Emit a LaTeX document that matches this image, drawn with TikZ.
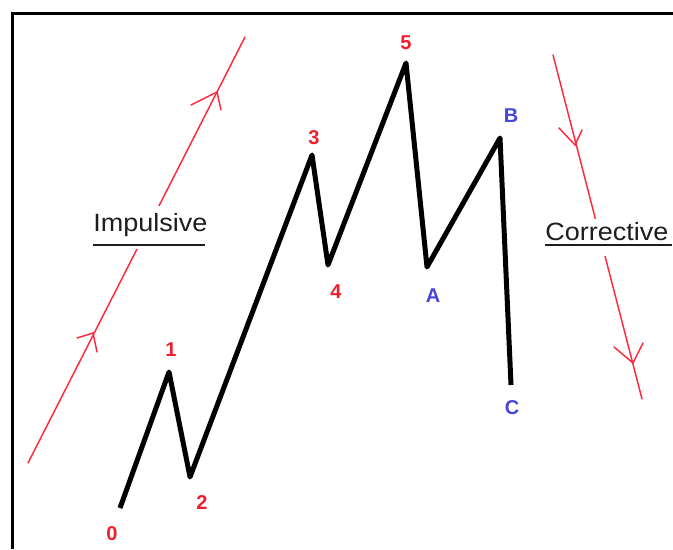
\documentclass[tikz,border=0pt]{standalone}
\usepackage{fontspec}
\setmainfont{Liberation Sans}
\newfontfamily\wordfont[FakeStretch=1.08]{Liberation Sans}
\definecolor{wavered}{RGB}{240,30,45}
\definecolor{waveblue}{RGB}{70,70,215}
\definecolor{lineRed}{RGB}{255,40,60}
\definecolor{inkgray}{RGB}{30,30,30}
\begin{document}
\begin{tikzpicture}[x=0.75pt,y=-0.75pt,
  frame/.style={line width=2.25pt,black},
  wave/.style={line width=3.75pt,black,line join=round,line cap=butt},
  trend/.style={line width=1.1pt,lineRed,line cap=round},
  num/.style={font=\bfseries\fontsize{15pt}{16pt}\selectfont,text=wavered,inner sep=0pt,text height=10.8pt,text depth=0pt,anchor=center},
  let/.style={font=\bfseries\fontsize{15pt}{16pt}\selectfont,text=waveblue,inner sep=0pt,text height=10.8pt,text depth=0pt,anchor=center},
  word/.style={font=\wordfont\fontsize{18.75pt}{20pt}\selectfont,text=inkgray,fill=white,anchor=base west,inner xsep=3pt,inner ysep=0.75pt},
  uline/.style={line width=1.5pt,inkgray}]
\useasboundingbox (0,0) rectangle (673,549);
% frame
\coordinate (fTL) at (12,14);
\coordinate (fTR) at (673,14);
\coordinate (fBL) at (12,549);
\draw[frame] (fBL) -- (fTL) -- (fTR);
% trend lines
\coordinate (lS) at (28,463);
\coordinate (lE) at (245,37);
\draw[trend] (lS) -- (lE);
\coordinate (la1) at (93,333);
\coordinate (la1l) at (77,338);
\coordinate (la1r) at (97,352);
\draw[trend] (la1l) -- (la1) -- (la1r);
\coordinate (la2) at (217,92);
\coordinate (la2l) at (191,105);
\coordinate (la2r) at (221,110);
\draw[trend] (la2l) -- (la2) -- (la2r);
\coordinate (rS) at (553,55);
\coordinate (rE) at (642,399);
\draw[trend] (rS) -- (rE);
\coordinate (ra1) at (575,145);
\coordinate (ra1l) at (559,128);
\coordinate (ra1r) at (582,130);
\draw[trend] (ra1l) -- (ra1) -- (ra1r);
\coordinate (ra2) at (633,363);
\coordinate (ra2l) at (614,347);
\coordinate (ra2r) at (643,343);
\draw[trend] (ra2l) -- (ra2) -- (ra2r);
% words
\node[word,text height=18pt,text depth=12.75pt] (imp) at (89,231) {Impulsive};
\coordinate (impU1) at (93,245);
\coordinate (impU2) at (205,245);
\draw[uline] (impU1) -- (impU2);
\node[word,text height=15pt,text depth=11.25pt] (cor) at (541,240) {Corrective};
\coordinate (corU1) at (545,245);
\coordinate (corU2) at (672,245);
\draw[uline] (corU1) -- (corU2);
% wave
\coordinate (p0) at (120,508);
\coordinate (p1) at (169,372);
\coordinate (p2) at (190,477);
\coordinate (p3) at (312,155);
\coordinate (p4) at (328,265);
\coordinate (p5) at (406,63);
\coordinate (pA) at (427,267);
\coordinate (pB) at (500,138);
\coordinate (pC) at (511,385);
\draw[wave] (p0) -- (p1) -- (p2) -- (p3) -- (p4) -- (p5) -- (pA) -- (pB) -- (pC);
% labels
\node[num] (t0) at (112,533) {0};
\node[num] (t1) at (171,349) {1};
\node[num] (t2) at (202,502) {2};
\node[num] (t3) at (314,137) {3};
\node[num] (t4) at (336,291) {4};
\node[num] (t5) at (406,42) {5};
\node[let] (tA) at (433,295) {A};
\node[let] (tB) at (511,115) {B};
\node[let] (tC) at (512,407) {C};
\end{tikzpicture}
\end{document}
